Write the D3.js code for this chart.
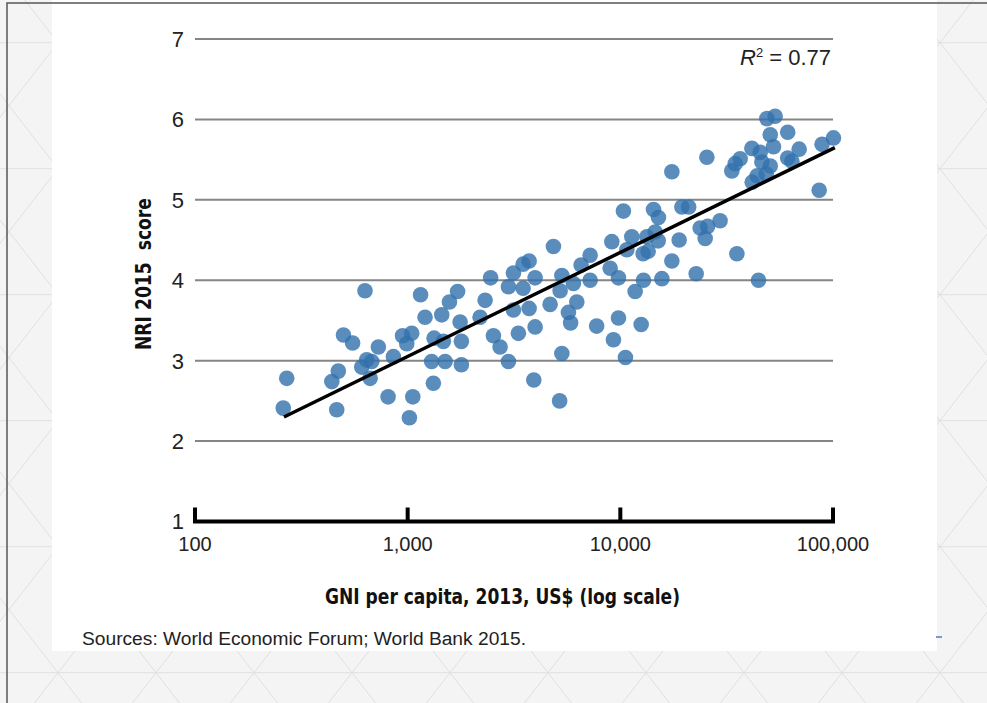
<!DOCTYPE html>
<html>
<head>
<meta charset="utf-8">
<script src="https://cdn.jsdelivr.net/npm/d3@7"></script>
<style>
  body { margin: 0; background: #f4f4f4; }
  text { font-family: "Liberation Sans", Arial, sans-serif; }
  .title { font-family: "Liberation Sans Narrow", "DejaVu Sans Condensed", "Liberation Sans", sans-serif; font-weight: bold; }
</style>
</head>
<body>
<div id="chart"></div>
<script>
// GNI per capita 2013 (US$) and NRI 2015 score
const gni = [260, 270, 440, 464, 472, 499, 551, 630, 608, 642, 678, 666, 728, 857, 809, 1057, 1019, 946, 1045, 990,
  1150, 1207, 1446, 1572, 1717, 1764, 1331, 1472, 1789, 1296, 1500, 1789, 1321, 2190, 2313, 2455, 2531, 2720, 2977, 3143,
  2977, 3725, 3490, 3975, 3490, 5309, 6017, 5210, 6540, 7211, 7211, 8955, 9800, 11740, 12850, 15680, 17470, 22730, 44630, 3143,
  3725, 4675, 6242, 5700, 5837, 3975, 3316, 7737, 9800, 12530, 9280, 5309, 10570, 3918, 5183, 10340, 4846, 9120, 11320, 10730,
  13330, 12800, 13510, 15070, 14580, 14320, 15110, 18910, 19470, 20960, 23730, 25740, 25060, 29450, 35320, 17470, 25520, 33440, 34670, 36600,
  41540, 44010, 41690, 45450, 46300, 48870, 53460, 50690, 52500, 50690, 48530, 61240, 69320, 61200, 64080, 88830, 100500, 86100];
const nri = [2.41, 2.78, 2.74, 2.39, 2.87, 3.32, 3.22, 3.87, 2.92, 3.01, 2.99, 2.78, 3.17, 3.05, 2.55, 2.55, 2.29, 3.31, 3.34, 3.21,
  3.82, 3.54, 3.57, 3.73, 3.86, 3.48, 3.28, 3.24, 3.24, 2.99, 2.99, 2.95, 2.72, 3.54, 3.75, 4.03, 3.31, 3.17, 2.99, 4.09,
  3.92, 4.24, 4.20, 4.03, 3.90, 4.06, 3.96, 3.87, 4.19, 4.00, 4.31, 4.15, 4.03, 3.86, 4.00, 4.02, 4.24, 4.08, 4.00, 3.63,
  3.65, 3.70, 3.73, 3.60, 3.47, 3.42, 3.34, 3.43, 3.53, 3.45, 3.26, 3.09, 3.04, 2.76, 2.50, 4.86, 4.42, 4.48, 4.54, 4.38,
  4.54, 4.33, 4.36, 4.49, 4.60, 4.88, 4.78, 4.50, 4.91, 4.91, 4.65, 4.67, 4.52, 4.74, 4.33, 5.35, 5.53, 5.36, 5.45, 5.51,
  5.64, 5.30, 5.22, 5.59, 5.47, 6.01, 6.04, 5.81, 5.66, 5.42, 5.32, 5.84, 5.63, 5.52, 5.48, 5.69, 5.77, 5.12];

// fitted line end points
const trendGni = [262, 102000];
const trendNri = [2.30, 5.65];

const yTicks = [1, 2, 3, 4, 5, 6, 7];
const xTicks = [100, 1000, 10000, 100000];
const xTickLabels = ["100", "1,000", "10,000", "100,000"];

const W = 987, H = 703;

const svg = d3.select("#chart").append("svg")
  .attr("width", W).attr("height", H);

// patterned backdrop
svg.append("rect").attr("width", W).attr("height", H).attr("fill", "#f4f4f4");
const bg = svg.append("g").attr("stroke", "#e0e0e0").attr("stroke-width", 1);
const s = 63 / 49;
for (let m = 0; m < 6; m++) {
  const yy = 42.7 + 126 * m;
  bg.append("line").attr("x1", 0).attr("x2", W).attr("y1", yy).attr("y2", yy);
}
for (let k = -12; k < 16; k++) {
  const x0 = 58 + 98 * k;
  bg.append("line").attr("x1", x0 - 100).attr("y1", 42.7 - 100 * s).attr("x2", x0 + 1000).attr("y2", 42.7 + 1000 * s);
  bg.append("line").attr("x1", x0 + 100).attr("y1", 42.7 - 100 * s).attr("x2", x0 - 1000).attr("y2", 42.7 + 1000 * s);
}

// white panel
svg.append("rect").attr("x", 52).attr("y", 0).attr("width", 885).attr("height", 651).attr("fill", "#fff");
svg.append("path").attr("d", `M7,${H} V3 H${W}`).attr("fill", "none").attr("stroke", "#555").attr("stroke-width", 1.5);
svg.append("line").attr("x1", 936).attr("x2", 942).attr("y1", 637).attr("y2", 637)
  .attr("stroke", "#4a7fc1").attr("stroke-width", 1.5);

const x = d3.scaleLog().domain([100, 100000]).range([195, 833]);
const y = d3.scaleLinear().domain([1, 7]).range([521.5, 39]);

// gridlines
svg.append("g").selectAll("line")
  .data(yTicks.filter((d) => d > 1))
  .join("line")
  .attr("x1", x(100)).attr("x2", x(100000))
  .attr("y1", (d) => y(d)).attr("y2", (d) => y(d))
  .attr("stroke", "#858585").attr("stroke-width", 2);

// y labels
svg.append("g").selectAll("text")
  .data(yTicks)
  .join("text")
  .attr("x", 184)
  .attr("y", (d) => y(d))
  .attr("dy", "0.36em")
  .attr("text-anchor", "end")
  .attr("font-size", "22px")
  .attr("fill", "#222")
  .text((d) => d);

// bottom axis: thick line with ticks up
const xAxis = svg.append("g");
xAxis.append("line")
  .attr("x1", x(100) - 2).attr("x2", x(100000) + 2)
  .attr("y1", y(1)).attr("y2", y(1))
  .attr("stroke", "#000").attr("stroke-width", 4);
xAxis.selectAll(".tk")
  .data(xTicks)
  .join("line")
  .attr("class", "tk")
  .attr("x1", (d) => x(d)).attr("x2", (d) => x(d))
  .attr("y1", y(1)).attr("y2", y(1) - 14)
  .attr("stroke", "#000").attr("stroke-width", 4);
xAxis.selectAll("text")
  .data(xTicks)
  .join("text")
  .attr("x", (d) => x(d))
  .attr("y", 551)
  .attr("text-anchor", "middle")
  .attr("font-size", "20px")
  .attr("fill", "#222")
  .text((d, i) => xTickLabels[i]);

// points
const pts = gni.map((g, i) => ({ gni: g, nri: nri[i] }));
svg.append("g").selectAll("circle")
  .data(pts)
  .join("circle")
  .attr("cx", (d) => x(d.gni))
  .attr("cy", (d) => y(d.nri))
  .attr("r", 7.8)
  .attr("fill", "#3270ab")
  .attr("opacity", 0.8);

// trend line
svg.append("line")
  .attr("x1", x(trendGni[0])).attr("y1", y(trendNri[0]))
  .attr("x2", x(trendGni[1])).attr("y2", y(trendNri[1]))
  .attr("stroke", "#000").attr("stroke-width", 3.5);

// R squared
const r2 = svg.append("text")
  .attr("x", 831).attr("y", 65)
  .attr("text-anchor", "end")
  .attr("font-size", "22px")
  .attr("fill", "#222");
r2.append("tspan").attr("font-style", "italic").text("R");
r2.append("tspan").attr("font-size", "13px").attr("dy", "-8").text("2");
r2.append("tspan").attr("dy", "8").text(" = 0.77");

// titles
svg.append("text")
  .attr("class", "title")
  .attr("x", 325).attr("y", 604)
  .attr("font-size", "21px")
  .attr("textLength", 355)
  .attr("lengthAdjust", "spacingAndGlyphs")
  .attr("fill", "#111")
  .text("GNI per capita, 2013, US$ (log scale)");

svg.append("text")
  .attr("class", "title")
  .attr("transform", "translate(151, 350) rotate(-90)")
  .attr("font-size", "21px")
  .attr("textLength", 152)
  .attr("lengthAdjust", "spacingAndGlyphs")
  .attr("fill", "#111")
  .attr("xml:space", "preserve")
  .style("white-space", "pre")
  .text("NRI 2015  score");

svg.append("text")
  .attr("x", 82).attr("y", 645)
  .attr("font-size", "19.2px")
  .attr("fill", "#222")
  .text("Sources: World Economic Forum; World Bank 2015.");
</script>
</body>
</html>
